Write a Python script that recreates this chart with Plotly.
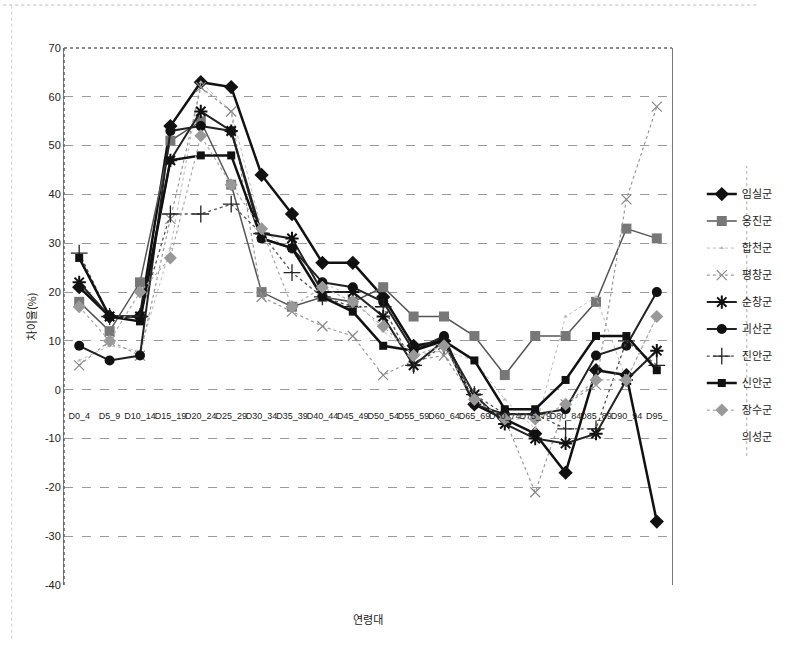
import plotly.graph_objects as go

categories = ["D0_4", "D5_9", "D10_14", "D15_19", "D20_24", "D25_29", "D30_34", "D35_39",
              "D40_44", "D45_49", "D50_54", "D55_59", "D60_64", "D65_69", "D70_74", "D75_79",
              "D80_84", "D85_89", "D90_94", "D95_"]

imsil    = [21, 15, 15, 54, 63, 62, 44, 36, 26, 26, 19, 9, 10, -3, -6, -9, -17, 4, 3, -27]
ongjin   = [18, 12, 22, 51, 55, 42, 20, 17, 19, 18, 21, 15, 15, 11, 3, 11, 11, 18, 33, 31]
hapcheon = [6, 9, 8, 29, 63, 57, 33, 28, 22, 19, 12, 7, 8, 6, -2, -8, 15, 19, 2, 15]
pyeongchang = [5, 10, 7, 35, 62, 57, 19, 16, 13, 11, 3, 6, 7, -2, -6, -21, -3, 1, 39, 58]
sunchang = [22, 15, 15, 47, 57, 53, 32, 31, 20, 20, 15, 5, 10, -1, -7, -10, -11, -9, 2, 8]
goesan   = [9, 6, 7, 53, 54, 53, 31, 29, 22, 21, 18, 8, 11, -3, -5, -5, -4, 7, 9, 20]
jinan    = [28, 15, 15, 36, 36, 38, 32, 24, 19, 17, 17, 5, 9, -1, -5, -5, -8, -8, 10, 5]
sinan    = [27, 15, 14, 47, 48, 48, 31, 29, 19, 16, 9, 8, 10, 6, -4, -4, 2, 11, 11, 4]
jangsu   = [17, 10, 20, 27, 52, 42, 33, 17, 21, 18, 13, 7, 9, -2, -6, -6, -3, 2, 2, 15]
uiseong  = [None] * 20

series_names = ["임실군", "옹진군", "합천군", "평창군", "순창군", "괴산군", "진안군", "신안군", "장수군", "의성군"]
series_vals = [imsil, ongjin, hapcheon, pyeongchang, sunchang, goesan, jinan, sinan, jangsu, uiseong]

y_tickvals = [70, 60, 50, 40, 30, 20, 10, 0, -10, -20, -30, -40]
y_ticktext = ["70", "60", "50", "40", "30", "20", "10", "0", "-10", "-20", "-30", "-40"]

styles = [
    dict(line=dict(color="#111111", width=2.5), marker=dict(symbol="diamond", size=11, color="#111111")),
    dict(line=dict(color="#555555", width=1.5), marker=dict(symbol="square", size=10, color="#777777")),
    dict(line=dict(color="#bbbbbb", width=1, dash="dot"), marker=dict(symbol="triangle-up", size=4, color="#bbbbbb")),
    dict(line=dict(color="#999999", width=1.2, dash="dot"), marker=dict(symbol="x-thin-open", size=10, color="#888888", line=dict(width=1.2, color="#888888"))),
    dict(line=dict(color="#222222", width=2), marker=dict(symbol="asterisk-open", size=11, color="#111111", line=dict(width=2, color="#111111"))),
    dict(line=dict(color="#222222", width=2), marker=dict(symbol="circle", size=10, color="#111111")),
    dict(line=dict(color="#555555", width=1.3, dash="dot"), marker=dict(symbol="cross-thin-open", size=12, color="#222222", line=dict(width=1.3, color="#222222"))),
    dict(line=dict(color="#111111", width=2.5), marker=dict(symbol="square", size=8, color="#111111")),
    dict(line=dict(color="#aaaaaa", width=1.2, dash="dot"), marker=dict(symbol="diamond", size=10, color="#999999")),
    dict(line=dict(color="rgba(0,0,0,0)", width=0), marker=dict(size=0, color="rgba(0,0,0,0)")),
]

fig = go.Figure()
for i, (name, vals, st) in enumerate(zip(series_names, series_vals, styles)):
    fig.add_trace(go.Scatter(x=categories, y=vals, name=name, mode="lines+markers",
                             legendgroup=f"g{i}", line=st["line"], marker=st["marker"]))

fig.update_layout(
    width=790, height=660,
    margin=dict(l=64, r=87, t=48, b=75),
    paper_bgcolor="white", plot_bgcolor="white",
    font=dict(family="Liberation Sans, Noto Sans CJK KR", size=11, color="#222222"),
    showlegend=True,
    legend=dict(x=1.049, y=0.755, xanchor="left", yanchor="top",
                font=dict(family="Noto Sans CJK KR", size=11, color="#222222"),
                tracegroupgap=8, bgcolor="rgba(0,0,0,0)",
                bordercolor="rgba(0,0,0,0)", borderwidth=0),
    xaxis=dict(type="category", range=[-0.5, 19.5], anchor="free", position=40 / 110,
               showgrid=False, showline=False, zeroline=False, tickangle=0,
               ticks="outside", ticklen=17, tickcolor="rgba(0,0,0,0)",
               tickfont=dict(size=9, family="Liberation Sans", color="#222222")),
    yaxis=dict(range=[-40, 70], tickvals=y_tickvals, ticktext=y_ticktext,
               showgrid=True, gridcolor="#9a9a9a",
               griddash="dash", gridwidth=1, zeroline=False,
               showline=True, linecolor="#777777", linewidth=1, mirror=True,
               ticks="", tickfont=dict(size=11, family="Liberation Sans"),
               title=dict(text="차이율(%)", font=dict(family="Noto Sans CJK KR", size=11), standoff=6)),
    annotations=[dict(text="연령대", xref="paper", yref="paper", x=0.5, y=-0.045,
                      showarrow=False, yanchor="top",
                      font=dict(family="Noto Sans CJK KR", size=11))],
    shapes=[
        dict(type="line", xref="paper", yref="paper", x0=0, x1=1, y0=1, y1=1,
             line=dict(color="#666666", width=1.5, dash="dot")),
        dict(type="line", xref="paper", yref="paper", x0=0, x1=0, y0=0, y1=1,
             line=dict(color="#666666", width=1.5, dash="dot")),
        dict(type="line", xref="paper", yref="paper", x0=-0.1, x1=1.14, y0=1.08, y1=1.08,
             line=dict(color="#bbbbbb", width=1, dash="dot")),
        dict(type="line", xref="paper", yref="paper", x0=-0.086, x1=-0.086, y0=-0.1, y1=1.08,
             line=dict(color="#cccccc", width=1, dash="dot")),
        dict(type="line", xref="paper", yref="paper", x0=1.123, x1=1.123, y0=0.24, y1=0.78,
             line=dict(color="#aaaaaa", width=1, dash="dot")),
    ],
)

fig.write_html("out.html")
